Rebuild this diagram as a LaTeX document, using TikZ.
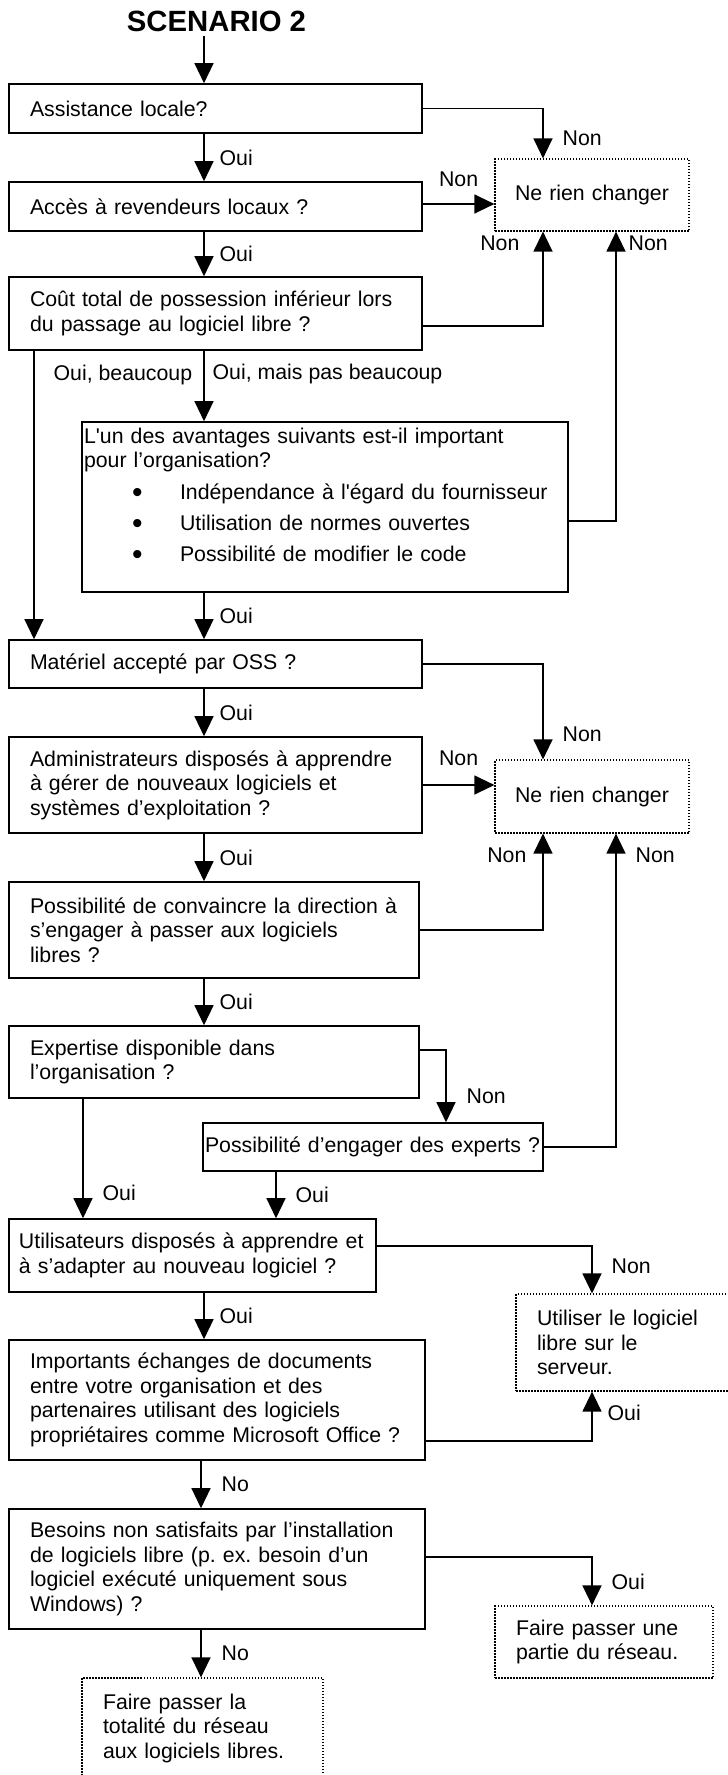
\documentclass[tikz,border=0pt]{standalone}
\usepackage{fontspec}
\setmainfont{Liberation Sans}
\usetikzlibrary{arrows.meta}
\frenchspacing
\newcommand{\boxfont}{\fontsize{21.3}{24.5}\selectfont}
\newcommand{\titlefont}{\fontsize{29.3}{32}\selectfont\bfseries}
\newcommand{\itemdot}{\hspace*{48pt}\makebox[48pt][l]{\raisebox{-3pt}{\fontsize{30}{24}\selectfont\textbullet}}}

\begin{document}
\begin{tikzpicture}[x=1pt, y=-1pt,
    qbox/.style={draw, line width=1.6pt, align=left, font=\boxfont, inner ysep=2pt},
    endbox/.style={draw, line width=1.2pt, dash pattern=on 1.5pt off 1.5pt, align=left, font=\boxfont, inner ysep=2pt},
    arr/.style={line width=1.3pt, -{Triangle[width=19pt,length=20pt]}},
    lbl/.style={font=\boxfont, inner sep=0pt}]
    \useasboundingbox (0,0) rectangle (728,1775);
    \clip (0,0) rectangle (728,1775);

    % Title
    \node[font=\titlefont, inner sep=4pt] (title) at (216.5,21) {SCENARIO 2};

    % Questions
    \node[qbox, minimum width=413pt, minimum height=49pt, text width=371pt, inner xsep=21pt] (q1) at (215.5,108.5) {Assistance locale?};
    \node[qbox, minimum width=413pt, minimum height=49pt, text width=371pt, inner xsep=21pt] (q2) at (215.5,206.5) {Accès à revendeurs locaux ?};
    \node[qbox, minimum width=413pt, minimum height=73pt, text width=371pt, inner xsep=21pt] (q3) at (215.5,313.5) {Coût total de possession inférieur lors\\du passage au logiciel libre ?};
    \node[qbox, minimum width=486pt, minimum height=170pt, text width=482pt, inner xsep=2pt] (q4) at (325,507) {L\textquotesingle un des avantages suivants est-il important\\
        pour l’organisation?\\[7pt]
        \itemdot Indépendance à l\textquotesingle égard du fournisseur\\[7pt]
        \itemdot Utilisation de normes ouvertes\\[6pt]
        \itemdot Possibilité de modifier le code\\
        \mbox{}};
    \node[qbox, minimum width=413pt, minimum height=48pt, text width=371pt, inner xsep=21pt] (q5) at (215.5,664) {Matériel accepté par OSS ?};
    \node[qbox, minimum width=413pt, minimum height=96pt, text width=371pt, inner xsep=21pt] (q6) at (215.5,785) {Administrateurs disposés à apprendre\\à gérer de nouveaux logiciels et\\systèmes d’exploitation ?};
    \node[qbox, minimum width=410pt, minimum height=96pt, text width=368pt, inner xsep=21pt] (q7) at (214,930) {Possibilité de convaincre la direction à\\s’engager à passer aux logiciels\\libres ?};
    \node[qbox, minimum width=410pt, minimum height=72pt, text width=368pt, inner xsep=21pt] (q8) at (214,1062) {Expertise disponible dans\\l’organisation ?};
    \node[qbox, minimum width=340pt, minimum height=48pt, text width=336pt, inner xsep=2pt] (q9) at (373,1147) {Possibilité d’engager des experts ?};
    \node[qbox, minimum width=367pt, minimum height=73pt, text width=347pt, inner xsep=10pt] (q10) at (192.5,1255.5) {Utilisateurs disposés à apprendre et\\à s’adapter au nouveau logiciel ?};
    \node[qbox, minimum width=416pt, minimum height=120pt, text width=374pt, inner xsep=21pt] (q11) at (217,1400) {Importants échanges de documents\\entre votre organisation et des\\partenaires utilisant des logiciels\\propriétaires comme Microsoft Office ?};
    \node[qbox, minimum width=416pt, minimum height=120pt, text width=374pt, inner xsep=21pt] (q12) at (217,1569) {Besoins non satisfaits par l’installation\\de logiciels libre (p. ex. besoin d’un\\logiciel exécuté uniquement sous\\Windows) ?};

    % Outcomes
    \node[endbox, minimum width=194pt, minimum height=72pt, text width=154pt, inner xsep=20pt] (e1) at (592,195) {Ne rien changer};
    \node[endbox, minimum width=194pt, minimum height=73pt, text width=154pt, inner xsep=20pt] (e2) at (592,796.5) {Ne rien changer};
    \node[endbox, minimum width=244pt, minimum height=97pt, text width=202pt, inner xsep=21pt] (e3) at (638,1342.5) {Utiliser le logiciel\\libre sur le\\serveur.};
    \node[endbox, minimum width=218pt, minimum height=72pt, text width=176pt, inner xsep=21pt] (e4) at (604,1642) {Faire passer une\\partie du réseau.};
    \node[endbox, minimum width=241pt, minimum height=121pt, text width=199pt, inner xsep=21pt] (e5) at (202.5,1738.5) {Faire passer la\\totalité du réseau\\aux logiciels libres.\\\mbox{}};

    % Columns of the connectors
    \coordinate (spine) at (204,0);
    \coordinate (spineb) at (201,0);
    \coordinate (lspine) at (34,0);
    \coordinate (colA) at (543,0);
    \coordinate (colB) at (616,0);
    \coordinate (colC) at (592,0);
    \coordinate (colD) at (446,0);
    \coordinate (colE) at (83,0);
    \coordinate (colF) at (276,0);
    \coordinate (q2out) at ([yshift=2.5pt]q2.east);

    % Main path
    \draw[arr] (title.south -| spine) -- (q1.north -| spine);
    \draw[arr] (q1.south -| spine) -- node[lbl, right=15pt] {Oui} (q2.north -| spine);
    \draw[arr] (q2.south -| spine) -- node[lbl, right=15pt] {Oui} (q3.north -| spine);
    \draw[arr] (q3.south -| spine) -- node[lbl, right=8pt, pos=0.33] {Oui, mais pas beaucoup} (q4.north -| spine);
    \draw[arr] (q3.south -| lspine) -- node[lbl, right=19pt, pos=0.083] {Oui, beaucoup} (q5.north -| lspine);
    \draw[arr] (q4.south -| spine) -- node[lbl, right=15pt] {Oui} (q5.north -| spine);
    \draw[arr] (q5.south -| spine) -- node[lbl, right=15pt] {Oui} (q6.north -| spine);
    \draw[arr] (q6.south -| spine) -- node[lbl, right=15pt] {Oui} (q7.north -| spine);
    \draw[arr] (q7.south -| spine) -- node[lbl, right=15pt] {Oui} (q8.north -| spine);
    \draw[arr] (q8.south -| colE) -- node[lbl, right=19pt, pos=0.785] {Oui} (q10.north -| colE);
    \draw[arr] (q9.south -| colF) -- node[lbl, right=19pt] {Oui} (q10.north -| colF);
    \draw[arr] (q10.south -| spine) -- node[lbl, right=15pt] {Oui} (q11.north -| spine);
    \draw[arr] (q11.south -| spineb) -- node[lbl, right=20pt] {No} (q12.north -| spineb);
    \draw[arr] (q12.south -| spineb) -- node[lbl, right=20pt] {No} (e5.north -| spineb);

    % Side branches
    \draw[arr] (q1.east) -| node[lbl, right=19pt, pos=0.8] {Non} (e1.north -| colA);
    \draw[arr] (q2out) -- node[lbl, above=17pt] {Non} (q2out -| e1.west);
    \draw[arr] ([yshift=-12.5pt]q3.east) -| node[lbl, left=23pt, pos=0.94] {Non} (e1.south -| colA);
    \draw[arr] ([yshift=-14pt]q4.east) -| node[lbl, right=12pt, pos=0.98] {Non} (e1.south -| colB);
    \draw[arr] (q5.east) -| node[lbl, right=19pt, pos=0.87] {Non} (e2.north -| colA);
    \draw[arr] (q6.east) -- node[lbl, above=19pt] {Non} (q6.east -| e2.west);
    \draw[arr] (q7.east) -| node[lbl, left=16pt, pos=0.89] {Non} (e2.south -| colA);
    \draw[arr] (q9.east) -| node[lbl, right=19pt, pos=0.965] {Non} (e2.south -| colB);
    \draw[arr] ([yshift=12pt]q8.east) -| node[lbl, right=20pt, pos=0.82] {Non} (q9.north -| colD);
    \draw[arr] ([yshift=9.5pt]q10.east) -| node[lbl, right=19pt, pos=0.71] {Non} (e3.north -| colC);
    \draw[arr] ([yshift=-41pt]q11.east) -| node[lbl, right=15pt, pos=0.78] {Oui} (e3.south -| colC);
    \draw[arr] ([yshift=12pt]q12.east) -| node[lbl, right=19pt, pos=0.755] {Oui} (e4.north -| colC);
\end{tikzpicture}
\end{document}
